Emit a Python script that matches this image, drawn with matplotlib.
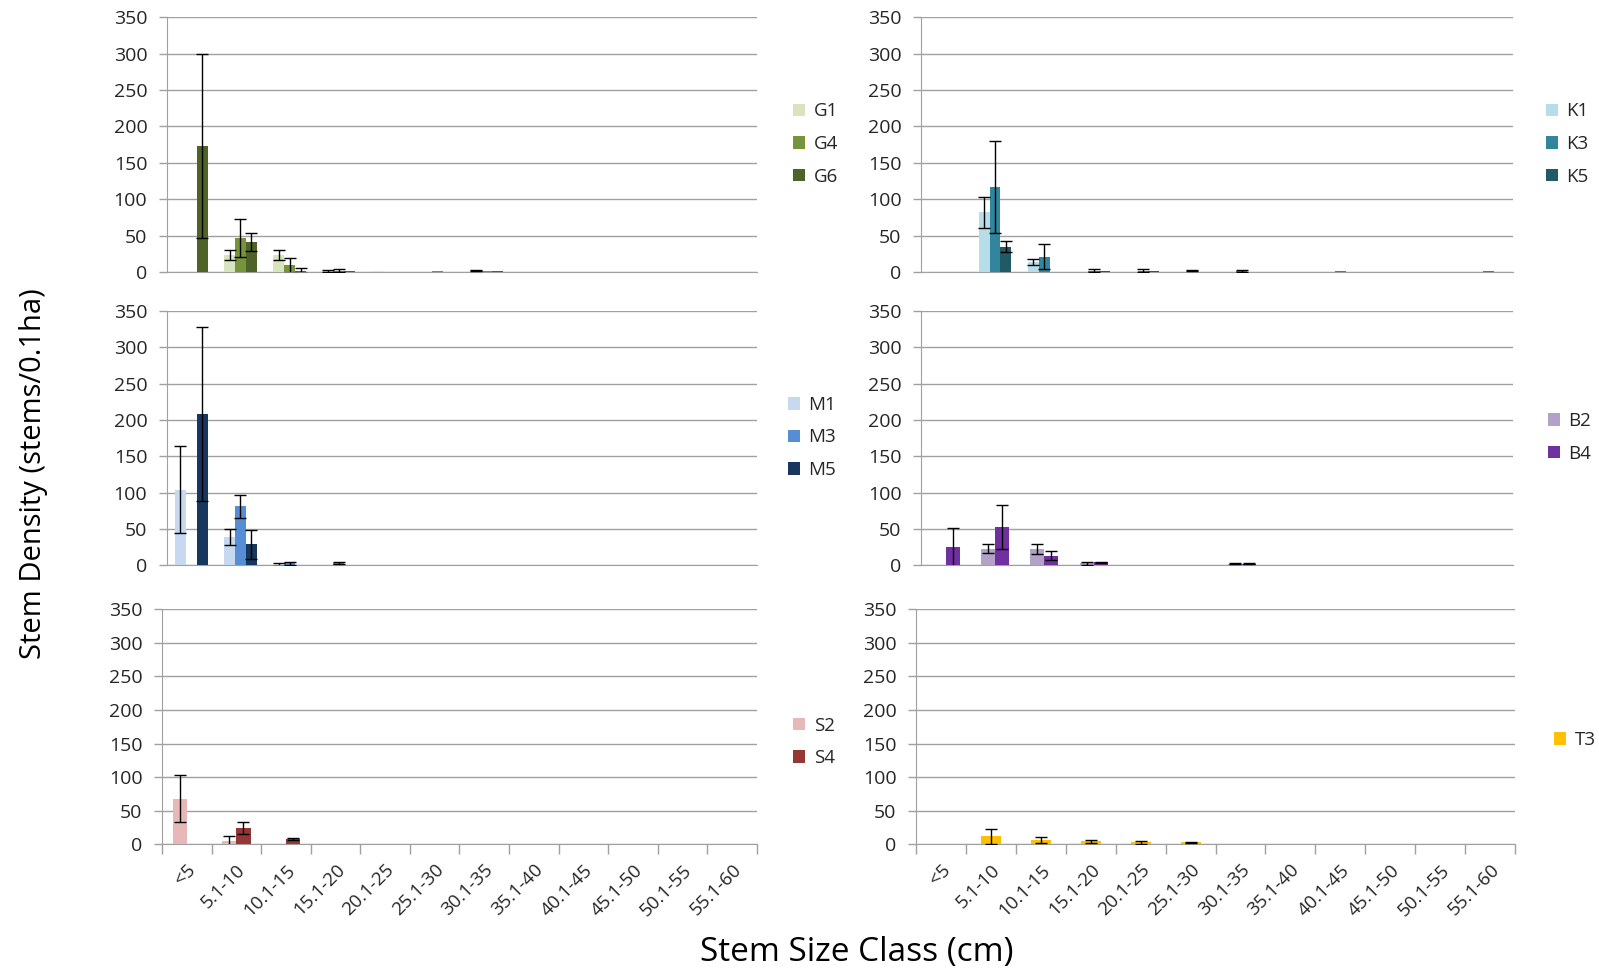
import matplotlib
matplotlib.use("Agg")
import matplotlib.pyplot as plt
import numpy as np
from matplotlib.patches import Patch

plt.rcParams['font.family'] = ['Open Sans', 'DejaVu Sans']

categories = ["<5", "5.1-10", "10.1-15", "15.1-20", "20.1-25", "25.1-30",
              "30.1-35", "35.1-40", "40.1-45", "45.1-50", "50.1-55", "55.1-60"]

# --- G panel ---
G1 = [0, 23, 23, 1, 1, 0, 2, 0, 0, 0, 0, 0]
G1_err = [0, 7, 7, 1.5, 0, 0, 1, 0, 0, 0, 0, 0]
G4 = [0, 47, 9, 2, 0, 1, 1, 0, 0, 0, 0, 0]
G4_err = [0, 26, 10, 2.5, 0, 0, 0, 0, 0, 0, 0, 0]
G6 = [173, 41, 2, 1.5, 0, 0, 1, 0, 0, 0, 0, 0]
G6_err = [126, 12, 3, 0, 0, 0, 0, 0, 0, 0, 0, 0]

# --- K panel ---
K1 = [0, 82, 14, 0, 0, 0, 0.5, 0, 0, 0, 0, 0]
K1_err = [0, 21, 4.5, 0, 0, 0, 0, 0, 0, 0, 0, 0]
K3 = [0, 117, 21, 2, 2, 2, 1.5, 0, 1, 0, 0, 1]
K3_err = [0, 63, 17, 2, 2, 1, 1, 0, 0, 0, 0, 0]
K5 = [0, 35, 0, 1.5, 1.5, 0, 0, 0, 0, 0, 0, 0]
K5_err = [0, 8, 0, 0, 0, 0, 0, 0, 0, 0, 0, 0]

# --- M panel ---
M1 = [104, 39, 1, 0, 0, 1, 1, 0, 0, 0, 0, 0]
M1_err = [60, 11, 2, 0, 0, 0, 0, 0, 0, 0, 0, 0]
M3 = [0, 81, 2.5, 3, 0, 0, 0, 0, 0, 0, 0, 0]
M3_err = [0, 16, 2.5, 1, 0, 0, 0, 0, 0, 0, 0, 0]
M5 = [208, 29, 0, 0, 0, 0, 0, 0, 0, 0, 0, 0]
M5_err = [120, 20, 0, 0, 0, 0, 0, 0, 0, 0, 0, 0]

# --- B panel ---
B2 = [0, 23, 23, 3, 1, 1, 2, 0, 0, 0, 0, 0]
B2_err = [0, 6, 7, 2, 0, 0, 0.5, 0, 0, 0, 0, 0]
B4 = [25, 53, 13, 4, 0, 0, 2, 0, 0, 0, 0, 0]
B4_err = [27, 30, 6, 1, 0, 0, 0.5, 0, 0, 0, 0, 0]

# --- S panel ---
S2 = [68, 5, 0, 0, 0, 0, 0, 0, 0, 0, 0, 0]
S2_err = [35, 7, 0, 0, 0, 0, 0, 0, 0, 0, 0, 0]
S4 = [0, 24, 8, 0, 0, 0, 0, 0, 0, 0, 0, 0]
S4_err = [0, 9, 1.5, 0, 0, 0, 0, 0, 0, 0, 0, 0]

# --- T panel ---
T3 = [0, 12, 7, 4.5, 3, 3, 0, 1, 1, 0, 0, 0]
T3_err = [0, 11.5, 4.5, 2, 2, 0.8, 0, 0, 0, 0, 0, 0]

panels = [
    dict(names=["G1", "G4", "G6"], vals=[G1, G4, G6], errs=[G1_err, G4_err, G6_err],
         colors=["#d7e4bd", "#77933c", "#4f6228"],
         rect=[166.7, 17.3, 757, 272], leg=(793, 144)),
    dict(names=["K1", "K3", "K5"], vals=[K1, K3, K5], errs=[K1_err, K3_err, K5_err],
         colors=["#b7dee8", "#31859c", "#215967"],
         rect=[921, 17.3, 1513, 272], leg=(1546, 144)),
    dict(names=["M1", "M3", "M5"], vals=[M1, M3, M5], errs=[M1_err, M3_err, M5_err],
         colors=["#c6d9f1", "#558ed5", "#17375e"],
         rect=[166.7, 311, 757, 565.3], leg=(788, 437.5)),
    dict(names=["B2", "B4"], vals=[B2, B4], errs=[B2_err, B4_err],
         colors=["#b3a2c7", "#7030a0"],
         rect=[921, 311, 1513, 565.3], leg=(1548, 437.5)),
    dict(names=["S2", "S4"], vals=[S2, S4], errs=[S2_err, S4_err],
         colors=["#e6b9b8", "#953735"],
         rect=[162, 609.3, 757, 844.3], leg=(793, 742)),
    dict(names=["T3"], vals=[T3], errs=[T3_err],
         colors=["#ffc000"],
         rect=[916, 609.3, 1515, 844.3], leg=(1554, 740)),
]

W, H = 1599, 973
fig = plt.figure(figsize=(W / 100, H / 100), dpi=100)

grid_c = "#a0a0a0"
text_c = "#262626"
x = np.arange(len(categories))

for i, p in enumerate(panels):
    x0, y0, x1, y1 = p["rect"]
    ax = fig.add_axes([x0 / W, 1 - y1 / H, (x1 - x0) / W, (y1 - y0) / H])
    n = len(p["names"])
    w = 1.0 / (n + 1.5)
    handles = []
    for j, (name, v, e, c) in enumerate(zip(p["names"], p["vals"], p["errs"], p["colors"])):
        off = (j - (n - 1) / 2) * w
        v = np.array(v, float)
        e = np.array(e, float)
        ax.bar(x + off, v, width=w, color=c, edgecolor="none", zorder=3)
        m = e > 0
        ax.errorbar(x[m] + off, v[m], yerr=e[m], fmt="none", ecolor="black",
                    elinewidth=1.0, capsize=4, capthick=1.0, zorder=4)
        handles.append(Patch(facecolor=c, edgecolor="none", label=name))
    ax.set_xlim(-0.5, len(categories) - 0.5)
    ax.set_ylim(0, 350)
    ax.set_yticks(np.arange(0, 351, 50))
    ax.yaxis.grid(True, color=grid_c, linewidth=1.0, zorder=0)
    ax.set_axisbelow(True)
    for s in ["top", "right"]:
        ax.spines[s].set_visible(False)
    ax.spines["left"].set_color(grid_c)
    ax.spines["bottom"].set_color(grid_c)
    ax.tick_params(axis="y", colors=grid_c, labelcolor=text_c, length=6,
                   width=1, pad=8, labelsize=14)
    if i >= 4:
        ax.set_xticks(np.arange(-0.5, len(categories) + 0.5, 1.0))
        ax.set_xticklabels([])
        ax.set_xticks(x, minor=True)
        ax.set_xticklabels(categories, minor=True, rotation=45, ha="right",
                           va="top", rotation_mode="anchor", fontsize=13.5,
                           color=text_c)
        ax.tick_params(axis="x", which="major", colors=grid_c, length=7, width=1)
        ax.tick_params(axis="x", which="minor", length=0, pad=12)
    else:
        ax.set_xticks([])
    lx, ly = p["leg"]
    ax.legend(handles=handles, loc="center left",
              bbox_to_anchor=(lx / W, 1 - ly / H), bbox_transform=fig.transFigure,
              frameon=False, fontsize=13.5, handlelength=0.65, handleheight=0.65,
              handletextpad=0.45, labelspacing=0.78, borderpad=0, borderaxespad=0,
              labelcolor=text_c)

fig.text(34 / W, 1 - 474 / H, "Stem Density (stems/0.1ha)", rotation=90,
         ha="center", va="center", fontsize=21, color="black")
fig.text(857 / W, 1 - 953 / H, "Stem Size Class (cm)", ha="center", va="center",
         fontsize=24, color="black")

fig.savefig("out.png", dpi=100)
